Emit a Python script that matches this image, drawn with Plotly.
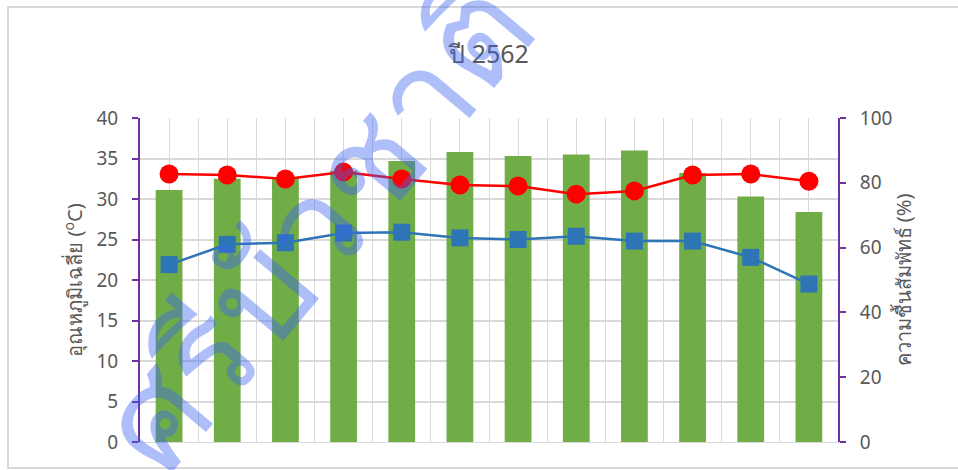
import plotly.graph_objects as go

months = list(range(12))
temp_max = [31.1, 32.5, 32.7, 33.5, 34.7, 35.8, 35.3, 35.5, 36.0, 33.2, 30.3, 28.4]
temp_min = [21.9, 24.4, 24.6, 25.8, 25.9, 25.2, 25.0, 25.4, 24.8, 24.8, 22.8, 19.5]
humidity = [82.7, 82.4, 81.2, 83.3, 81.2, 79.3, 79.0, 76.5, 77.5, 82.4, 82.7, 80.5]

title_text = "ปี 2562"
left_title = "อุณหภูมิเฉลี่ย (<sup>o</sup>C)"
right_title = "ความชื้นสัมพัทธ์ (%)"
watermark = "ศรีบัวชาติ"

purple = "#7030A0"
grid = "#D9D9D9"
txt = "#595959"
font_family = "Noto Sans, DejaVu Sans, sans-serif"

fig = go.Figure()
fig.add_trace(go.Bar(x=months, y=temp_max, marker=dict(color="#70AD47", line=dict(width=0)),
                     width=0.46, yaxis="y", showlegend=False))
fig.add_trace(go.Scatter(x=months, y=temp_min, mode="lines+markers", yaxis="y",
                         line=dict(color="#2E75B6", width=2.5),
                         marker=dict(symbol="square", size=17, color="#2E75B6"), showlegend=False))
fig.add_trace(go.Scatter(x=months, y=humidity, mode="lines+markers", yaxis="y2",
                         line=dict(color="#FF0000", width=2.5),
                         marker=dict(symbol="circle", size=19, color="#FF0000"), showlegend=False))

fig.update_layout(
    width=958, height=470,
    margin=dict(l=140, r=120, t=118, b=28),
    paper_bgcolor="white", plot_bgcolor="white",
    font=dict(family=font_family, color=txt),
    title=dict(text=title_text, x=0.5105, xanchor="center", y=0.885, yanchor="middle",
               font=dict(size=25, color=txt)),
    xaxis=dict(range=[-0.5, 11.5], tick0=-0.5, dtick=0.5, showticklabels=False,
               showgrid=True, gridcolor=grid, gridwidth=1, zeroline=False, ticks="",
               showline=True, linecolor=grid, linewidth=1),
    yaxis=dict(range=[0, 40], dtick=5, showgrid=True, gridcolor=grid, gridwidth=1.5,
               zeroline=False, showline=True, linecolor=purple, linewidth=2,
               ticks="outside", ticklen=6, tickwidth=2, tickcolor=purple,
               ticklabelstandoff=10,
               tickfont=dict(size=19, color=txt),
               title=dict(text=left_title, font=dict(size=20, color=txt), standoff=8)),
    yaxis2=dict(range=[0, 100], dtick=20, overlaying="y", side="right", showgrid=False,
                zeroline=False, showline=True, linecolor=purple, linewidth=2,
                ticks="outside", ticklen=6, tickwidth=2, tickcolor=purple,
                ticklabelstandoff=10,
                tickfont=dict(size=19, color=txt),
                title=dict(text=right_title, font=dict(size=20, color=txt), standoff=6)),
    bargap=0.5,
)

# chart frame
fig.add_shape(type="rect", xref="paper", yref="paper",
              x0=(8 - 140) / 698, x1=(975 - 140) / 698,
              y0=(442 - 468) / 324, y1=(442 - 7) / 324,
              line=dict(color="#D9D9D9", width=2), fillcolor="rgba(0,0,0,0)", layer="below")

# watermark
fig.add_annotation(text=watermark, xref="paper", yref="paper",
                   x=(312 - 140) / 698, y=(442 - 222) / 324, showarrow=False,
                   xanchor="center", yanchor="middle",
                   textangle=-50, font=dict(size=138, color="rgba(60,100,240,0.42)",
                                            family=font_family))

fig.write_html("out.html")
